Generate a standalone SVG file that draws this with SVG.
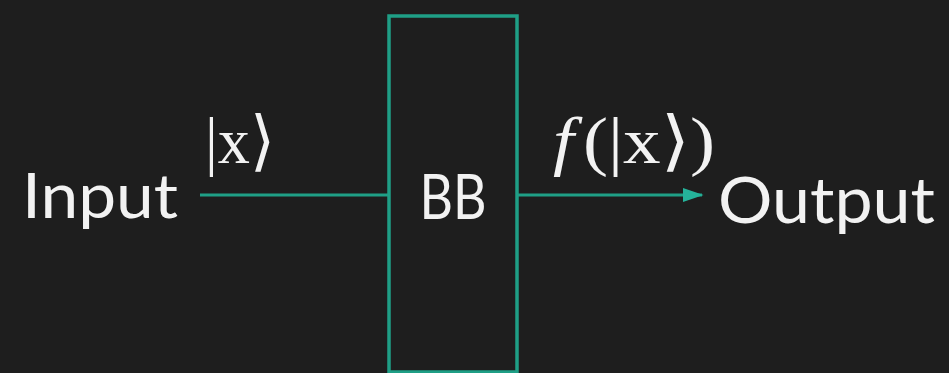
<svg xmlns="http://www.w3.org/2000/svg" width="949" height="373" viewBox="0 0 949 373">
  <defs>
    <marker id="arrowhead" markerWidth="6.5" markerHeight="4.4" refX="6" refY="2.2" orient="auto" markerUnits="strokeWidth">
      <path d="M0,0 L6.5,2.2 L0,4.4 Z" fill="#25b39a"/>
    </marker>
    <style>
      .label { fill: #f2f2f2; font-family: "Lato", "Liberation Sans", sans-serif; font-weight: 400; }
      .math { fill: #f2f2f2; font-family: "Liberation Serif", "DejaVu Serif", serif; }
      .wire { stroke: #1f9f86; stroke-width: 3.2; fill: none; }
    </style>
  </defs>

  <rect width="949" height="373" fill="#1e1e1e"/>

  <!-- connectors -->
  <g id="connectors">
    <line class="wire" x1="200" y1="195" x2="389" y2="195"/>
    <line class="wire" x1="517" y1="195" x2="702" y2="195" marker-end="url(#arrowhead)"/>
  </g>

  <!-- black box -->
  <g id="bb">
    <rect x="389" y="16" width="128" height="356" fill="none" stroke="#1f9f86" stroke-width="3.5"/>
    <text class="label" x="453" y="219" font-size="62" text-anchor="middle" textLength="67" lengthAdjust="spacingAndGlyphs">BB</text>
  </g>

  <g id="input">
    <text class="label" x="22" y="218" font-size="62" textLength="156" lengthAdjust="spacingAndGlyphs">Input</text>
    <text class="math" x="205" y="163" font-size="66" textLength="70" lengthAdjust="spacingAndGlyphs">|x⟩</text>
  </g>

  <g id="output">
    <text class="label" x="718" y="223" font-size="64" textLength="217" lengthAdjust="spacingAndGlyphs">Output</text>
    <text class="math" x="553" y="163" font-size="66" textLength="162" lengthAdjust="spacingAndGlyphs"><tspan font-style="italic">f</tspan><tspan dx="8">(|x⟩)</tspan></text>
  </g>
</svg>
